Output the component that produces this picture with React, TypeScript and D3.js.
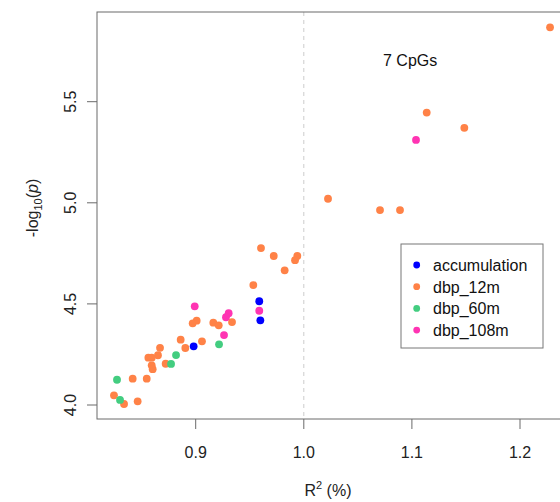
import React from "react";
import * as d3 from "d3";

// R^2 (%) and -log10(p) for each group
const accumR2 = [0.9588, 0.9598, 0.8981];
const accumLogP = [4.513, 4.419, 4.29];

const dbp12R2 = [
  1.2278, 1.1137, 1.1485, 1.0705, 1.089, 1.0224, 0.9604, 0.9722, 0.994, 0.9919,
  0.9823, 0.9533, 0.9009, 0.8972, 0.9163, 0.9213, 0.9336, 0.8861, 0.9058, 0.8904,
  0.867, 0.8651, 0.8562, 0.8593, 0.8593, 0.8602, 0.8722, 0.8417, 0.8547, 0.8244,
  0.8337, 0.8463,
];
const dbp12LogP = [
  5.868, 5.446, 5.371, 4.964, 4.964, 5.02, 4.776, 4.737, 4.737, 4.716,
  4.666, 4.593, 4.417, 4.404, 4.407, 4.394, 4.41, 4.323, 4.315, 4.282,
  4.283, 4.246, 4.234, 4.234, 4.196, 4.177, 4.204, 4.13, 4.13, 4.048,
  4.005, 4.018,
];

const dbp60R2 = [0.9216, 0.8818, 0.8772, 0.8272, 0.83];
const dbp60LogP = [4.3, 4.247, 4.203, 4.125, 4.025];

const dbp108R2 = [1.1038, 0.9588, 0.8991, 0.9305, 0.928, 0.9262];
const dbp108LogP = [5.311, 4.466, 4.488, 4.454, 4.434, 4.346];

const groupNames = ["accumulation", "dbp_12m", "dbp_60m", "dbp_108m"];
const groupColors = ["#0000FF", "#FF8247", "#43CD80", "#FF34B3"];

const xTicks = [0.9, 1.0, 1.1, 1.2];
const yTicks = [4.0, 4.5, 5.0, 5.5];
const refLine = 1.0;
const annotation = "7 CpGs";

const W = 560;
const H = 502;
const plot = { left: 97, right: 562, top: 12, bottom: 419 };
const font = "'Liberation Sans', Arial, Helvetica, sans-serif";

export default function App() {
  const x = d3.scaleLinear().domain([0.9, 1.2]).range([195.7, 520]);
  const y = d3.scaleLinear().domain([4.0, 5.5]).range([405, 101.7]);

  const groups = [
    { name: groupNames[0], color: groupColors[0], xs: accumR2, ys: accumLogP },
    { name: groupNames[1], color: groupColors[1], xs: dbp12R2, ys: dbp12LogP },
    { name: groupNames[2], color: groupColors[2], xs: dbp60R2, ys: dbp60LogP },
    { name: groupNames[3], color: groupColors[3], xs: dbp108R2, ys: dbp108LogP },
  ];
  // orange first so the smaller groups sit on top
  const drawOrder = [1, 2, 3, 0];

  const leg = { x: 401, y: 244, w: 142, h: 104, row: 21.7 };

  return (
    <svg
      width={W}
      height={H}
      style={{ position: "absolute", left: 0, top: 0, background: "#fff" }}
      fontFamily={font}
    >
      <rect width={W} height={H} fill="#fff" />
      {/* dashed reference line */}
      <line
        x1={x(refLine)}
        x2={x(refLine)}
        y1={plot.top}
        y2={plot.bottom}
        stroke="#cccccc"
        strokeDasharray="4,4"
      />
      {/* points */}
      {drawOrder.map((gi) =>
        groups[gi].xs.map((v, i) => (
          <circle
            key={`${gi}-${i}`}
            cx={x(v)}
            cy={y(groups[gi].ys[i])}
            r={3.9}
            fill={groups[gi].color}
          />
        ))
      )}
      {/* box */}
      <rect
        x={plot.left}
        y={plot.top}
        width={plot.right - plot.left}
        height={plot.bottom - plot.top}
        fill="none"
        stroke="#6a6a6a"
      />
      {/* x axis */}
      {xTicks.map((t) => (
        <g key={t}>
          <line x1={x(t)} x2={x(t)} y1={plot.bottom} y2={plot.bottom + 10} stroke="#6a6a6a" />
          <text x={x(t)} y={457.5} textAnchor="middle" fontSize={16} fill="#222">
            {t.toFixed(1)}
          </text>
        </g>
      ))}
      {/* y axis */}
      {yTicks.map((t) => (
        <g key={t}>
          <line x1={plot.left - 10} x2={plot.left} y1={y(t)} y2={y(t)} stroke="#6a6a6a" />
          <text
            transform={`translate(76,${y(t)}) rotate(-90)`}
            textAnchor="middle"
            fontSize={16}
            fill="#222"
          >
            {t.toFixed(1)}
          </text>
        </g>
      ))}
      {/* axis titles */}
      <text x={328} y={496} textAnchor="middle" fontSize={16} fill="#222">
        R
        <tspan fontSize={11} dy={-7}>2</tspan>
        <tspan dy={7}> (%)</tspan>
      </text>
      <text
        transform={`translate(38,208) rotate(-90)`}
        textAnchor="middle"
        fontSize={16}
        fill="#222"
      >
        -log
        <tspan fontSize={11} dy={4}>10</tspan>
        <tspan dy={-4}>(</tspan>
        <tspan fontStyle="italic">p</tspan>
        <tspan>)</tspan>
      </text>
      {/* annotation */}
      <text x={383} y={66} fontSize={16} fill="#111">
        {annotation}
      </text>
      {/* legend */}
      <rect x={leg.x} y={leg.y} width={leg.w} height={leg.h} fill="#fff" stroke="#777" />
      {groups.map((g, i) => (
        <g key={g.name}>
          <circle cx={416.7} cy={265 + i * leg.row} r={3.4} fill={g.color} />
          <text x={433} y={265 + i * leg.row + 6} fontSize={16} fill="#111">
            {g.name}
          </text>
        </g>
      ))}
    </svg>
  );
}
